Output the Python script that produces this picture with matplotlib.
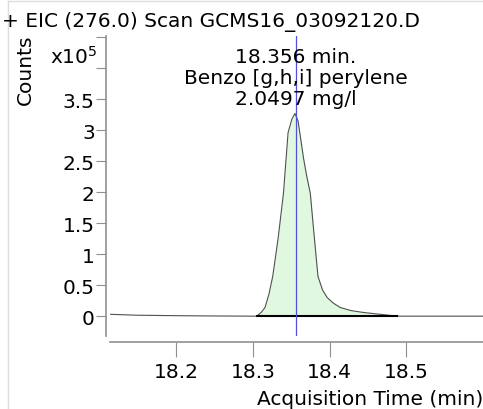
import matplotlib
matplotlib.use("Agg")
import matplotlib.pyplot as plt
from matplotlib.lines import Line2D
import numpy as np

# EIC 276.0 trace, counts in units of 1e5
times = [18.114, 18.15, 18.2, 18.25, 18.305, 18.311, 18.316, 18.321, 18.326,
         18.333, 18.340, 18.346, 18.351, 18.355, 18.359, 18.362, 18.366,
         18.370, 18.375, 18.380, 18.385, 18.391, 18.397, 18.405, 18.414,
         18.428, 18.444, 18.466, 18.488, 18.55, 18.6]
counts = [0.03, 0.015, 0.008, 0.003, 0.0, 0.06, 0.14, 0.35, 0.64,
          1.25, 1.98, 2.96, 3.18, 3.27, 3.15, 2.90, 2.56,
          2.28, 1.98, 1.30, 0.64, 0.42, 0.30, 0.21, 0.14,
          0.09, 0.06, 0.03, 0.0, 0.0, 0.0]
peak_start, peak_end = 18.305, 18.488
peak_rt = 18.356
peak_lines = ["18.356 min.", "Benzo [g,h,i] perylene", "2.0497 mg/l"]
yticks = [0, 0.5, 1, 1.5, 2, 2.5, 3, 3.5, 4, 4.5]
ylabels = ["0", "0.5", "1", "1.5", "2", "2.5", "3", "3.5", "", ""]
xticks = [18.2, 18.3, 18.4, 18.5]

W, H = 483, 410
fs = 14.5
fig = plt.figure(figsize=(W / 100, H / 100), dpi=100)
ax = fig.add_axes([110 / W, 1 - 337 / H, 373 / W, 300 / H])

t = np.array(times)
c = np.array(counts)
m = (t >= peak_start) & (t <= peak_end)
ax.fill_between(t[m], c[m], 0, color="#e0f8e0", lw=0)
ax.plot(t, c, color="#505050", lw=0.8)
ax.plot([peak_start, peak_end], [0, 0], color="black", lw=1.5)
ax.axvline(peak_rt, color="#5050d8", lw=0.9)

ax.set_xlim(18.114, 18.6)
ax.set_ylim(-0.32, 4.52)
ax.set_yticks(yticks)
ax.set_yticklabels(ylabels)
ax.set_xticks(xticks)
ax.set_xticklabels([f"{x:.1f}" for x in xticks])

for s in ["top", "right"]:
    ax.spines[s].set_visible(False)
ax.spines["left"].set_position(("outward", 3))
ax.spines["bottom"].set_position(("outward", 4))
for s in ["left", "bottom"]:
    ax.spines[s].set_color("#909090")
    ax.spines[s].set_linewidth(1.2)
ax.tick_params(axis="y", length=7, color="#909090", labelsize=fs, pad=1)
ax.tick_params(axis="x", length=11, color="#909090", labelsize=fs, pad=4)

for i, txt in enumerate(peak_lines):
    ax.text(peak_rt, 4.19 - i * 0.34, txt, ha="center", va="center", fontsize=fs)

fig.text(2 / W, 1 - 22 / H, "+ EIC (276.0) Scan GCMS16_03092120.D",
         ha="left", va="center", fontsize=fs)
fig.text(25 / W, 1 - 70 / H, "Counts", rotation=90, ha="center", va="center",
         fontsize=fs)
fig.text(50 / W, 1 - 57 / H, r"x10$^5$", ha="left", va="center", fontsize=fs)
fig.text(1.0, 1 - 400 / H, "Acquisition Time (min)", ha="right", va="center",
         fontsize=fs)

# light frame around the plot window
fig.add_artist(Line2D([8 / W, 1], [1 - 1.5 / H, 1 - 1.5 / H], color="#dddddd", lw=1))
fig.add_artist(Line2D([8 / W, 8 / W], [0, 1 - 1.5 / H], color="#dddddd", lw=1))

fig.savefig("out.png", dpi=100)
